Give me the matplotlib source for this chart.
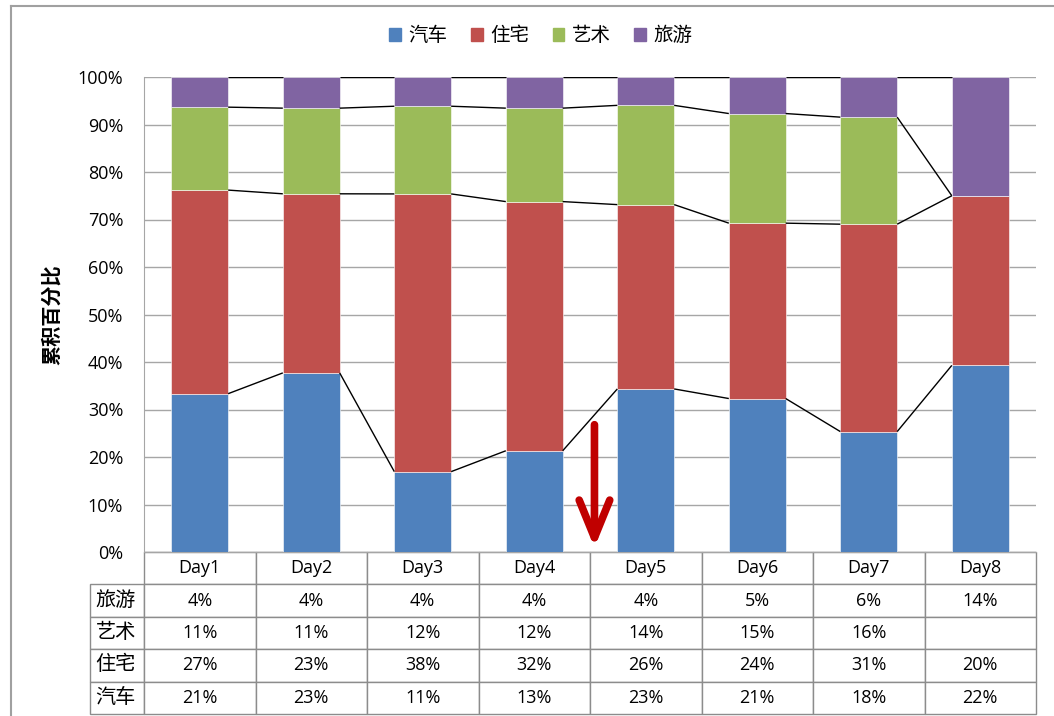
import matplotlib
matplotlib.use("Agg")
import matplotlib.pyplot as plt
from matplotlib.patches import Patch
from matplotlib.lines import Line2D
import numpy as np

plt.rcParams['font.family'] = ['Open Sans', 'Noto Sans CJK SC', 'DejaVu Sans']

days = ["Day1", "Day2", "Day3", "Day4", "Day5", "Day6", "Day7", "Day8"]
series_names = ["汽车", "住宅", "艺术", "旅游"]
car = [21, 23, 11, 13, 23, 21, 18, 22]
house = [27, 23, 38, 32, 26, 24, 31, 20]
art = [11, 11, 12, 12, 14, 15, 16, None]
travel = [4, 4, 4, 4, 4, 5, 6, 14]
colors = ["#4F81BD", "#C0504D", "#9BBB59", "#8064A2"]

raw = np.array([[v if v is not None else 0 for v in s] for s in (car, house, art, travel)], dtype=float)
pct = raw / raw.sum(axis=0) * 100
cum = np.cumsum(pct, axis=0)

W, H = 1054, 716
fig = plt.figure(figsize=(W / 100, H / 100), dpi=100)
ax = fig.add_axes([144 / W, 1 - 552 / H, (1036 - 144) / W, (552 - 77) / H])

x = np.arange(len(days))
bw = 0.51
bottom = np.zeros(len(days))
for i in range(4):
    ax.bar(x, pct[i], bw, bottom=bottom, color=colors[i], edgecolor="white",
           linewidth=0.4, zorder=3)
    bottom += pct[i]

# series lines
for i in range(4):
    for j in range(len(days) - 1):
        ax.plot([x[j] + bw / 2, x[j + 1] - bw / 2], [cum[i, j], cum[i, j + 1]],
                color="black", lw=1.0, zorder=4, solid_capstyle="butt")

ax.set_xlim(-0.5, len(days) - 0.5)
ax.set_ylim(0, 100)
ax.set_yticks(np.arange(0, 101, 10))
ax.set_yticklabels([f"{v}%" for v in range(0, 101, 10)], fontsize=13)
ax.set_xticks([])
ax.yaxis.grid(True, color="#A6A6A6", lw=1.0, zorder=0)
ax.tick_params(axis="y", length=0, pad=15)
for s in ("top", "right"):
    ax.spines[s].set_visible(False)
ax.spines["left"].set_color("#A6A6A6")
ax.spines["bottom"].set_color("#A6A6A6")
ax.set_ylabel("累积百分比", fontsize=14.5, fontweight="bold")
ax.yaxis.set_label_coords((63 - 144) / 892, 0.5)

# data table
rows = ["旅游", "艺术", "住宅", "汽车"]
table_vals = [travel, art, house, car]
cell_text = [[(f"{v}%" if v is not None else "") for v in r] for r in table_vals]
colw = 1.0 / len(days)
tbl = ax.table(cellText=cell_text, rowLabels=rows, colLabels=days,
               cellLoc="center", rowLoc="left",
               colWidths=[colw] * len(days),
               bbox=[0, -(714 - 552) / 475, 1, (714 - 552) / 475])
tbl.auto_set_font_size(False)
tbl.set_fontsize(13)
tbl._autoColumns = [c for c in tbl._autoColumns if c != -1]
for (r, c), cell in tbl.get_celld().items():
    cell.set_edgecolor("#8C8C8C")
    cell.set_linewidth(1.0)
    if c == -1:
        cell.set_width(colw * 54 / 111.5)
        cell.get_text().set_fontsize(14.5)
        cell.PAD = 0.1

# red arrow
ax.annotate("", xy=(3.54, 0.9), xytext=(3.54, 26.8),
            arrowprops=dict(arrowstyle="->,head_length=2.7,head_width=1.1",
                            color="#C00000", lw=5.5, shrinkA=0, shrinkB=0),
            zorder=6)

# legend
handles = [Patch(facecolor=c, edgecolor=c) for c in colors]
fig.legend(handles, series_names, loc="center", bbox_to_anchor=(541 / W, 1 - 36 / H),
           ncol=4, frameon=False, fontsize=14, handlelength=0.6, handleheight=0.6,
           handletextpad=0.4, columnspacing=1.2)

# outer border
fig.add_artist(Line2D([11 / W, 1.0], [1 - 6 / H, 1 - 6 / H], color="#A0A0A0", lw=1.5))
fig.add_artist(Line2D([11 / W, 11 / W], [0, 1 - 6 / H], color="#A0A0A0", lw=1.5))

fig.savefig("out.png", dpi=100)
